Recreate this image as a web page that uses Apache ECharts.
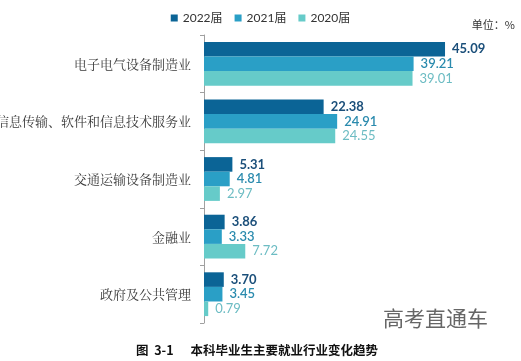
<!DOCTYPE html>
<html><head><meta charset="utf-8">
<script src="https://cdn.jsdelivr.net/npm/echarts@6/dist/echarts.min.js"></script>
<style>html,body{margin:0;padding:0;background:#fff}#c{width:521px;height:361px}</style>
</head><body><div id="c"></div>
<script>
const categories = ['电子电气设备制造业', '信息传输、软件和信息技术服务业', '交通运输设备制造业', '金融业', '政府及公共管理'];
const seriesNames = ['2022届', '2021届', '2020届'];
const values2022 = [45.09, 22.38, 5.31, 3.86, 3.70];
const values2021 = [39.21, 24.91, 4.81, 3.33, 3.45];
const values2020 = [39.01, 24.55, 2.97, 7.72, 0.79];

const barColors = ['#0b6496', '#2a9fc6', '#66cbc9'];
const labelColors = ['#1b4f7a', '#2b8bae', '#6cbcc3'];
const labelWeights = ['bold', '600', 'normal'];
const allValues = [values2022, values2021, values2020];

const chart = echarts.init(document.getElementById('c'));
chart.setOption({
  animation: false,
  textStyle: { fontFamily: 'Noto Sans CJK SC' },
  legend: {
    top: 7, left: 'center',
    itemWidth: 7, itemHeight: 7, itemGap: 12,
    icon: 'rect',
    textStyle: { fontSize: 12, color: '#333', fontFamily: 'Lato, "Noto Sans CJK SC"' },
    data: seriesNames
  },
  graphic: [
    { type: 'text', right: 6, top: 19, style: { text: '单位：%', font: '11px "Noto Sans CJK SC"', fill: '#333' } },
    { type: 'text', left: 383, top: 308, style: { text: '高考直通车', font: '21px "Noto Sans CJK SC"', fill: '#666' } },
    { type: 'text', left: 136, top: 344, style: { text: '图  3-1      本科毕业生主要就业行业变化趋势', font: 'bold 12.5px "Noto Sans CJK SC"', fill: '#111' } }
  ],
  grid: { left: 204, right: 23, top: 35, bottom: 38, containLabel: false, outerBoundsMode: 'none' },
  xAxis: { type: 'value', min: 0, max: 55, show: false },
  yAxis: {
    type: 'category', data: categories, inverse: true,
    axisLine: { show: true, lineStyle: { color: '#a0a0a0', width: 1 } },
    axisTick: { show: true, length: 4, lineStyle: { color: '#a0a0a0' } },
    axisLabel: { fontSize: 13, color: '#3a3a3a', margin: 13, fontFamily: '"Noto Serif CJK SC", "Noto Sans CJK SC"' }
  },
  series: seriesNames.map((n, i) => ({
    name: n, type: 'bar', data: allValues[i],
    barGap: '0%', barCategoryGap: '24%',
    itemStyle: { color: barColors[i] },
    label: {
      show: true, position: 'right', distance: 7,
      formatter: p => p.value.toFixed(2),
      color: labelColors[i], fontWeight: labelWeights[i], fontSize: 13,
      fontFamily: 'Lato, "Open Sans", sans-serif'
    }
  }))
});
</script></body></html>
